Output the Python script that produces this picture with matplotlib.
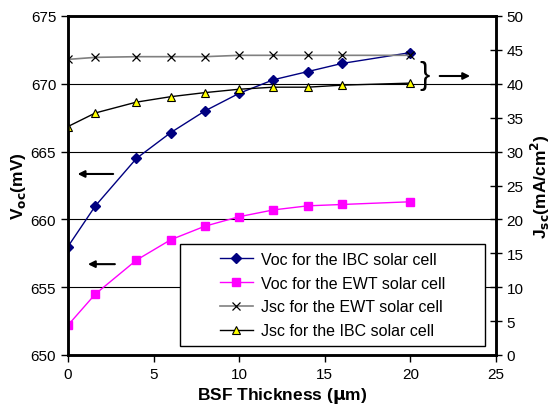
import matplotlib.pyplot as plt
from matplotlib.patches import Rectangle
import numpy as np

plt.rcParams['font.family'] = ['Liberation Sans', 'DejaVu Sans']

# BSF thickness (um)
x = [0, 1.6, 4, 6, 8, 10, 12, 14, 16, 20]
# Voc (mV), left axis
voc_ibc = [658.0, 661.0, 664.5, 666.4, 668.0, 669.3, 670.3, 670.9, 671.5, 672.3]
voc_ewt = [652.2, 654.5, 657.0, 658.5, 659.5, 660.2, 660.7, 661.0, 661.1, 661.3]
# Jsc (mA/cm2), right axis
jsc_ewt = [43.6, 43.9, 44.0, 44.0, 44.0, 44.2, 44.2, 44.2, 44.2, 44.2]
jsc_ibc = [33.7, 35.7, 37.3, 38.1, 38.7, 39.2, 39.5, 39.5, 39.8, 40.1]

fig = plt.figure(figsize=(5.59, 4.10), dpi=100)
ax = fig.add_axes([68 / 559, 1 - 356 / 410, 428 / 559, 339 / 410])
ax2 = ax.twinx()

l1, = ax.plot(x, voc_ibc, color='#000080', lw=1, marker='D', ms=5, label='Voc for the IBC solar cell')
l2, = ax.plot(x, voc_ewt, color='#ff00ff', lw=1, marker='s', ms=6, label='Voc for the EWT solar cell')
l3, = ax2.plot(x, jsc_ewt, color='#808080', lw=1.2, marker='x', ms=6, mec='black', mew=0.9,
               label='Jsc for the EWT solar cell')
l4, = ax2.plot(x, jsc_ibc, color='black', lw=1, marker='^', ms=6, mfc='#ffff00', mec='black', mew=0.8,
               label='Jsc for the IBC solar cell')

ax.set_xlim(0, 25)
ax.set_ylim(650, 675)
ax2.set_ylim(0, 50)
ax.set_xticks(np.arange(0, 26, 5))
ax.set_yticks(np.arange(650, 676, 5))
ax2.set_yticks(np.arange(0, 51, 5))

# horizontal gridlines on the left axis
for v in [655, 660, 665, 670]:
    ax.axhline(v, color='black', lw=0.8, zorder=0)

for a in (ax, ax2):
    for s in a.spines.values():
        s.set_linewidth(1.8)
ax.tick_params(axis='both', labelsize=11, direction='out', length=5, width=1)
ax2.tick_params(axis='y', labelsize=11, direction='inout', length=8, width=1)

ax.set_xlabel(r'BSF Thickness ($\mathbf{\mu}$m)', fontsize=12.5, fontweight='bold', labelpad=3)
ax.set_ylabel(r'V$_{\mathbf{oc}}$(mV)', fontsize=12.5, fontweight='bold', labelpad=2)
ax2.set_ylabel(r'J$_{\mathbf{sc}}$(mA/cm$^{\mathbf{2}}$)', fontsize=12.5, fontweight='bold', labelpad=4)

# arrows and brace
arrow = dict(arrowstyle='-|>', color='black', lw=1.5, mutation_scale=10)
ax.annotate('', xy=(0.016, 0.534), xytext=(0.112, 0.534), xycoords='axes fraction', arrowprops=arrow)
ax.annotate('', xy=(0.040, 0.268), xytext=(0.116, 0.268), xycoords='axes fraction', arrowprops=arrow)
ax.annotate('', xy=(0.946, 0.823), xytext=(0.862, 0.823), xycoords='axes fraction', arrowprops=arrow)
ax.text(0.834, 0.826, '}', transform=ax.transAxes, fontsize=22, ha='center', va='center')

# legend box
box = Rectangle((0.262, 0.027), 0.712, 0.300, transform=ax2.transAxes, facecolor='white',
                edgecolor='black', lw=1, zorder=4)
ax2.add_patch(box)
leg = ax2.legend(handles=[l1, l2, l3, l4], loc='center', bbox_to_anchor=(0.262 + 0.356, 0.027 + 0.150),
                 fontsize=11.5, frameon=False, handlelength=2.1, handletextpad=0.5,
                 borderpad=0.2, labelspacing=0.55)
leg.set_zorder(5)

fig.savefig('out.png', dpi=100)
